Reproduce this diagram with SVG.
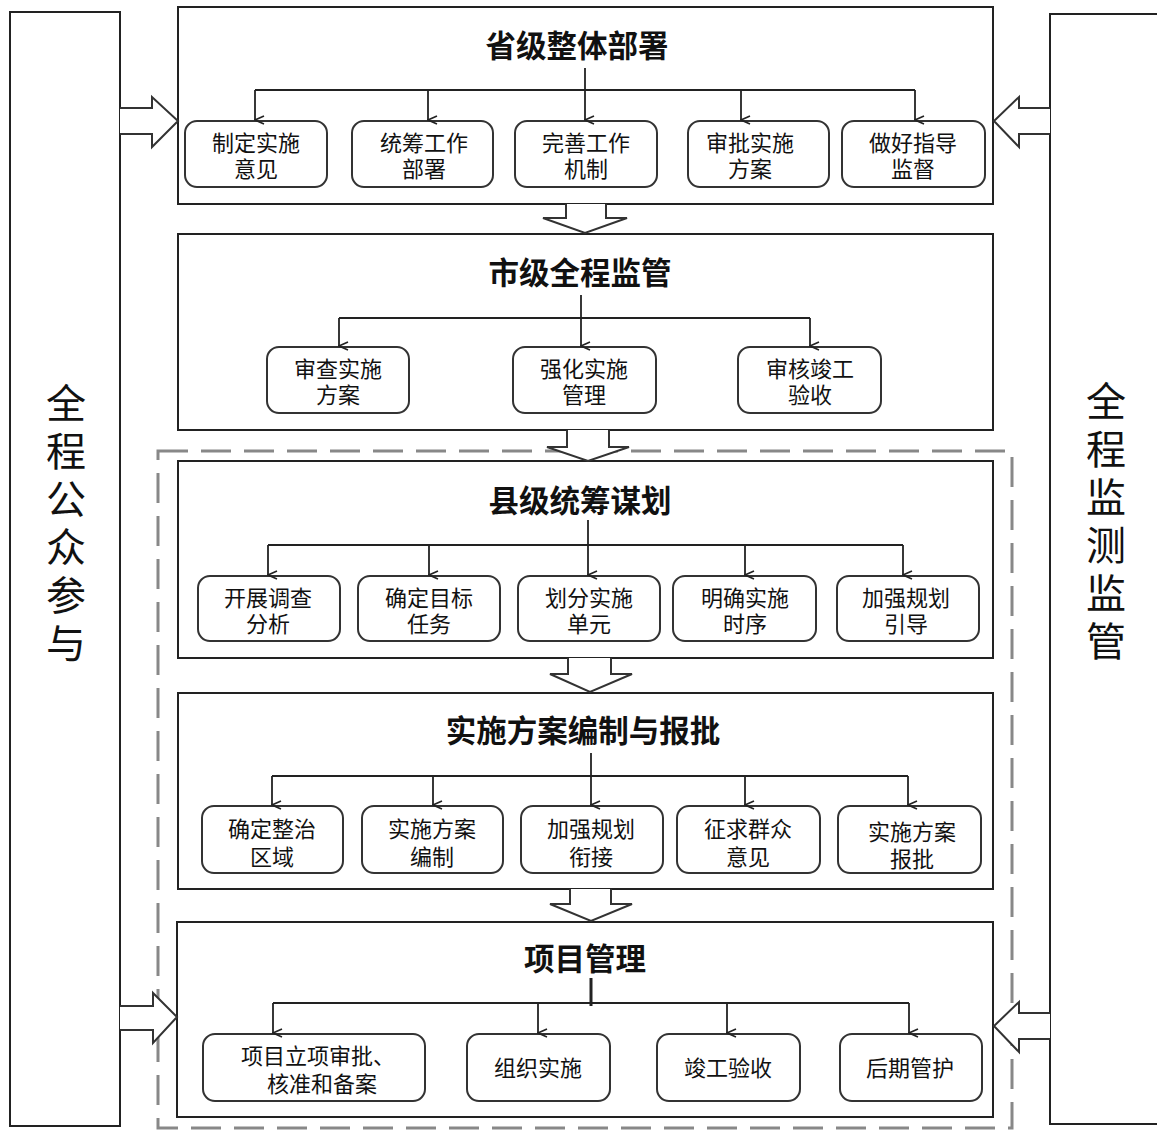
<svg xmlns="http://www.w3.org/2000/svg" width="1157" height="1133" viewBox="0 0 1157 1133">
<defs>
<marker id="ah" markerWidth="10" markerHeight="12" refX="5" refY="11" orient="auto-start-reverse" markerUnits="userSpaceOnUse" viewBox="0 0 10 12">
<path d="M1,2 L5,11 L9,2" fill="none" stroke="#222" stroke-width="1.6"/>
</marker>
<style>
.frame{fill:#fff;stroke:#222;stroke-width:2}
.side{fill:#fff;stroke:#222;stroke-width:2}
.sub{fill:#fff;stroke:#333;stroke-width:2}
.title{font-family:"Liberation Sans","Noto Sans CJK SC",sans-serif;font-weight:bold;font-size:30.5px;fill:#111;text-anchor:middle}
.lbl{font-family:"Liberation Sans","Noto Sans CJK SC",sans-serif;font-size:22px;fill:#111;text-anchor:middle}
.vt{font-family:"Noto Sans CJK SC",sans-serif;font-size:40px;fill:#111;writing-mode:vertical-rl;letter-spacing:8px}
.conn{fill:none;stroke:#222;stroke-width:2}
.arr{fill:none;stroke:#222;stroke-width:1.8;marker-end:url(#ah)}
.blk{fill:#fff;stroke:#333;stroke-width:2;stroke-linejoin:miter}
.dash{fill:none;stroke:#888;stroke-width:3;stroke-dasharray:30 13}
</style>
</defs>
<rect width="1157" height="1133" fill="#fff"/>

<g id="dashed-frame"><rect class="dash" x="158" y="451" width="854" height="677"/></g>

<g id="left-side">
<rect class="side" x="10" y="12" width="110" height="1114"/>
<text class="vt" x="66" y="383">全程公众参与</text>
</g>

<g id="right-side">
<rect class="side" x="1050" y="14" width="120" height="1110"/>
<text class="vt" x="1106" y="381">全程监测监管</text>
</g>

<g id="province">
<rect class="frame" x="178" y="7" width="815" height="197"/>
<text class="title" x="577" y="57">省级整体部署</text>
<rect class="sub" x="185" y="121" width="142" height="66" rx="12"/>
<text class="lbl"><tspan x="256" y="151">制定实施</tspan><tspan x="256" y="177">意见</tspan></text>
<rect class="sub" x="352" y="121" width="141" height="66" rx="12"/>
<text class="lbl"><tspan x="424" y="151">统筹工作</tspan><tspan x="424" y="177">部署</tspan></text>
<rect class="sub" x="515" y="121" width="142" height="66" rx="12"/>
<text class="lbl"><tspan x="586" y="151">完善工作</tspan><tspan x="586" y="177">机制</tspan></text>
<rect class="sub" x="688" y="121" width="141" height="66" rx="12"/>
<text class="lbl"><tspan x="750" y="151">审批实施</tspan><tspan x="750" y="177">方案</tspan></text>
<rect class="sub" x="842" y="121" width="143" height="66" rx="12"/>
<text class="lbl"><tspan x="913" y="151">做好指导</tspan><tspan x="913" y="177">监督</tspan></text>
</g>

<g id="city">
<rect class="frame" x="178" y="234" width="815" height="196"/>
<text class="title" x="580" y="284">市级全程监管</text>
<rect class="sub" x="267" y="347" width="142" height="66" rx="12"/>
<text class="lbl"><tspan x="338" y="377">审查实施</tspan><tspan x="338" y="403">方案</tspan></text>
<rect class="sub" x="513" y="347" width="143" height="66" rx="12"/>
<text class="lbl"><tspan x="584" y="377">强化实施</tspan><tspan x="584" y="403">管理</tspan></text>
<rect class="sub" x="738" y="347" width="143" height="66" rx="12"/>
<text class="lbl"><tspan x="810" y="377">审核竣工</tspan><tspan x="810" y="403">验收</tspan></text>
</g>

<g id="county">
<rect class="frame" x="178" y="461" width="815" height="197"/>
<text class="title" x="580" y="512">县级统筹谋划</text>
<rect class="sub" x="198" y="576" width="142" height="65" rx="12"/>
<text class="lbl"><tspan x="268" y="606">开展调查</tspan><tspan x="268" y="632">分析</tspan></text>
<rect class="sub" x="358" y="576" width="142" height="65" rx="12"/>
<text class="lbl"><tspan x="429" y="606">确定目标</tspan><tspan x="429" y="632">任务</tspan></text>
<rect class="sub" x="518" y="576" width="142" height="65" rx="12"/>
<text class="lbl"><tspan x="589" y="606">划分实施</tspan><tspan x="589" y="632">单元</tspan></text>
<rect class="sub" x="673" y="576" width="143" height="65" rx="12"/>
<text class="lbl"><tspan x="745" y="606">明确实施</tspan><tspan x="745" y="632">时序</tspan></text>
<rect class="sub" x="837" y="576" width="142" height="65" rx="12"/>
<text class="lbl"><tspan x="906" y="606">加强规划</tspan><tspan x="906" y="632">引导</tspan></text>
</g>

<g id="plan">
<rect class="frame" x="178" y="693" width="815" height="196"/>
<text class="title" x="583" y="742">实施方案编制与报批</text>
<rect class="sub" x="202" y="806" width="141" height="67" rx="12"/>
<text class="lbl"><tspan x="272" y="837">确定整治</tspan><tspan x="272" y="865">区域</tspan></text>
<rect class="sub" x="362" y="806" width="141" height="67" rx="12"/>
<text class="lbl"><tspan x="432" y="837">实施方案</tspan><tspan x="432" y="865">编制</tspan></text>
<rect class="sub" x="521" y="806" width="142" height="67" rx="12"/>
<text class="lbl"><tspan x="591" y="837">加强规划</tspan><tspan x="591" y="865">衔接</tspan></text>
<rect class="sub" x="677" y="806" width="143" height="67" rx="12"/>
<text class="lbl"><tspan x="748" y="837">征求群众</tspan><tspan x="748" y="865">意见</tspan></text>
<rect class="sub" x="838" y="806" width="143" height="67" rx="12"/>
<text class="lbl"><tspan x="912" y="840">实施方案</tspan><tspan x="912" y="867">报批</tspan></text>
</g>

<g id="project">
<rect class="frame" x="177" y="922" width="816" height="195"/>
<text class="title" x="585" y="970">项目管理</text>
<rect class="sub" x="203" y="1034" width="222" height="67" rx="12"/>
<text class="lbl"><tspan x="318" y="1064">项目立项审批、</tspan><tspan x="322" y="1092">核准和备案</tspan></text>
<rect class="sub" x="467" y="1034" width="143" height="67" rx="12"/>
<text class="lbl" x="538" y="1076">组织实施</text>
<rect class="sub" x="657" y="1034" width="143" height="67" rx="12"/>
<text class="lbl" x="728" y="1076">竣工验收</text>
<rect class="sub" x="840" y="1034" width="142" height="67" rx="12"/>
<text class="lbl" x="910" y="1076">后期管护</text>
</g>

<g id="connectors">
<path class="conn" d="M255,90 H915"/>
<path class="arr" d="M585,68 V120"/>
<path class="arr" d="M255,90 V120"/>
<path class="arr" d="M428,90 V120"/>
<path class="arr" d="M741,90 V120"/>
<path class="arr" d="M915,90 V120"/>
<path class="conn" d="M339,318 H810"/>
<path class="arr" d="M581,295 V346"/>
<path class="arr" d="M339,318 V346"/>
<path class="arr" d="M810,318 V346"/>
<path class="conn" d="M268,545 H903"/>
<path class="arr" d="M588,520 V575"/>
<path class="arr" d="M268,545 V575"/>
<path class="arr" d="M429,545 V575"/>
<path class="arr" d="M745,545 V575"/>
<path class="arr" d="M903,545 V575"/>
<path class="conn" d="M272,776 H908"/>
<path class="arr" d="M591,753 V805"/>
<path class="arr" d="M272,776 V805"/>
<path class="arr" d="M433,776 V805"/>
<path class="arr" d="M745,776 V805"/>
<path class="arr" d="M908,776 V805"/>
<path class="conn" d="M591,978 V1006" style="stroke-width:3"/>
<path class="conn" d="M273,1003 H909"/>
<path class="arr" d="M273,1003 V1033"/>
<path class="arr" d="M538,1003 V1033"/>
<path class="arr" d="M727,1003 V1033"/>
<path class="arr" d="M909,1003 V1033"/>
<path class="blk" d="M566,204 V218 H543 L585,233 L627,218 H606 V204"/>
<path class="blk" d="M567,430 V447 H547 L588,461 L629,447 H609 V430"/>
<path class="blk" d="M568,658 V674 H550 L590,692 L632,674 H611 V658"/>
<path class="blk" d="M570,889 V904 H550 L591,921 L632,904 H611 V889"/>
<path class="blk" d="M120,108 H152 V97 L178,121 L152,147 V134 H120"/>
<path class="blk" d="M1050,108 H1019 V97 L994,121 L1019,147 V134 H1050"/>
<path class="blk" d="M120,1006 H153 V993 L177,1017 L153,1043 V1030 H120"/>
<path class="blk" d="M1050,1013 H1019 V1002 L994,1026 L1019,1052 V1039 H1050"/>
</g>
</svg>
